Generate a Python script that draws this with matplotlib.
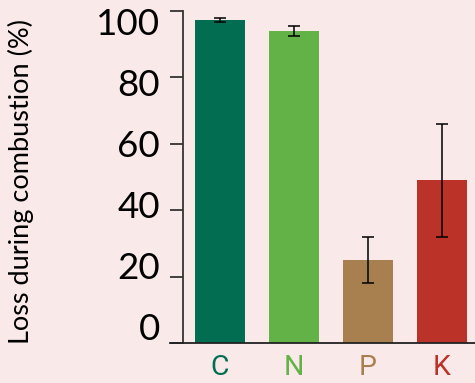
import numpy as np
import matplotlib
matplotlib.use('Agg')
import matplotlib.pyplot as plt
from matplotlib.lines import Line2D
from matplotlib.transforms import blended_transform_factory

# Perte d'éléments pendant la combustion
elements = ['C', 'N', 'P', 'K']
loss = [97.3, 94.0, 25.0, 49.0]
loss_err = [0.5, 1.5, 7.0, 17.0]
colors = ['#026d50', '#62b247', '#a88050', '#bb3328']
y_ticks = [0, 20, 40, 60, 80, 100]

bg = '#f9e9e9'
fig = plt.figure(figsize=(4.75, 3.83), dpi=100, facecolor=bg)
ax = fig.add_axes([183 / 475, 40 / 383, 292 / 475, 332 / 383])
ax.set_facecolor(bg)

x = np.arange(len(elements))
ax.bar(x, loss, width=50 / 74, color=colors, zorder=2)
ax.errorbar(x, loss, yerr=loss_err, fmt='none', ecolor='black',
            elinewidth=1.1, capsize=4.5, capthick=1.1, zorder=3)

ax.set_xlim(-0.5, -0.5 + 292 / 74)
ax.set_ylim(0, 100)

for s in ['top', 'right', 'bottom']:
    ax.spines[s].set_visible(False)
ax.spines['left'].set_color('#333333')
ax.spines['left'].set_linewidth(1.3)

# ligne de base prolongée vers la gauche
ax.add_line(Line2D([-13 / 292, 1], [0, 0], transform=ax.transAxes,
                   color='#222222', lw=1.3, clip_on=False, zorder=4))

# graduations, étiquettes placées à part (légèrement resserrées)
ax.set_yticks(y_ticks)
ax.set_yticklabels([])
ax.tick_params(axis='y', length=9.5, width=1.3, color='#333333')
trans = blended_transform_factory(ax.transAxes, ax.transData)
for t in y_ticks:
    ax.text(-23 / 292, 4 + 0.92 * t, str(t), transform=trans, ha='right',
            va='center', fontsize=26.5, family='Lato', clip_on=False)

ax.set_xticks(x)
ax.set_xticklabels(elements, fontsize=20.5, family='Roboto')
ax.tick_params(axis='x', length=0, pad=8)
for lbl, c in zip(ax.get_xticklabels(), colors):
    lbl.set_color(c)

fig.text(21 / 475, 1 - 182 / 383, 'Loss during combustion (%)', rotation=90,
         ha='center', va='center', fontsize=19.5, family='Lato')

fig.savefig('out.png', dpi=100, facecolor=bg)
plt.close()
